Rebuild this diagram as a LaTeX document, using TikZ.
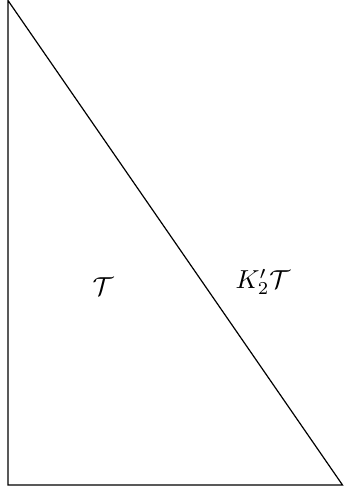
\documentclass[tikz,border=0pt]{standalone}
\begin{document}
\begin{tikzpicture}[x=1pt,y=1pt,
  edge/.style={draw=black,line width=1.2pt},
  lbl/.style={inner sep=0pt,scale=2.6}]
\useasboundingbox (0,0) rectangle (343,493);
\coordinate (A) at (8,492.5);
\coordinate (B) at (8,8);
\coordinate (C) at (342.5,8);
\draw[edge] (A) -- (B) -- (C) -- cycle;
\node[lbl] (t) at (103,206) {$\mathcal{T}$};
\node[lbl] (k) at (263,211) {$K_2'\mathcal{T}$};
\end{tikzpicture}
\end{document}
